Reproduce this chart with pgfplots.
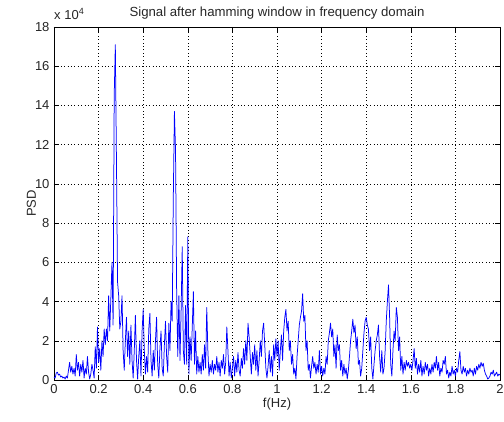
\documentclass[border=0pt]{standalone}
\usepackage{pgfplots}
\usepackage{pgfplotstable}
\pgfplotsset{compat=1.18}
\usepackage{fontspec}
\setmainfont{Liberation Sans}

% PSD of the windowed signal, in units of 10^4, sampled every 0.005 Hz from 0 to 2 Hz
\pgfplotstableread[row sep=\\]{
y\\
0.15\\ 0.1\\ 0.35\\ 0.4\\ 0.25\\ 0.3\\ 0.15\\ 0.2\\ 0.1\\ 0.15\\ 0.05\\ 0.2\\ 0.1\\ 0.5\\ 0.9\\ 0.4\\ 0.7\\ 0.3\\ 0.6\\ 0.2\\
1.3\\ 0.5\\ 0.9\\ 0.2\\ 0.8\\ 0.4\\ 1.0\\ 0.1\\ 0.6\\ 0.3\\ 1.2\\ 0.4\\ 0.05\\ 0.3\\ 0.8\\ 0.5\\ 0.1\\ 1.7\\ 0.6\\ 2.7\\
0.9\\ 1.6\\ 0.5\\ 2.0\\ 1.2\\ 2.6\\ 1.8\\ 2.6\\ 2.0\\ 4.3\\ 2.5\\ 4.2\\ 6.0\\ 2.8\\ 14.5\\ 17.1\\ 11.3\\ 5.0\\ 4.3\\ 2.6\\
3.0\\ 4.3\\ 1.5\\ 0.5\\ 2.0\\ 3.2\\ 1.2\\ 2.5\\ 0.8\\ 2.8\\ 1.0\\ 0.1\\ 1.5\\ 3.3\\ 1.0\\ 0.05\\ 1.2\\ 2.0\\ 0.2\\ 2.5\\
3.6\\ 1.5\\ 0.3\\ 1.2\\ 0.4\\ 2.6\\ 3.4\\ 1.0\\ 0.2\\ 1.5\\ 0.5\\ 2.0\\ 3.2\\ 0.8\\ 0.1\\ 1.6\\ 2.5\\ 0.6\\ 0.2\\ 1.8\\
3.0\\ 1.2\\ 0.4\\ 2.9\\ 1.5\\ 4.0\\ 3.0\\ 9.3\\ 13.7\\ 11.7\\ 4.5\\ 1.2\\ 4.3\\ 1.0\\ 3.5\\ 6.8\\ 1.5\\ 0.8\\ 3.8\\ 0.8\\
7.3\\ 0.3\\ 2.2\\ 1.0\\ 2.7\\ 4.5\\ 0.8\\ 2.5\\ 0.3\\ 1.2\\ 0.4\\ 0.9\\ 0.3\\ 1.3\\ 0.5\\ 1.8\\ 0.6\\ 3.7\\ 1.5\\ 0.2\\
0.8\\ 0.4\\ 1.0\\ 0.3\\ 0.8\\ 0.5\\ 1.2\\ 0.4\\ 0.9\\ 0.2\\ 1.0\\ 0.6\\ 1.3\\ 0.3\\ 0.9\\ 2.7\\ 1.5\\ 0.2\\ 0.9\\ 0.1\\
0.6\\ 1.2\\ 0.2\\ 1.0\\ 0.4\\ 1.4\\ 0.5\\ 0.2\\ 1.1\\ 0.6\\ 1.6\\ 0.8\\ 2.0\\ 1.0\\ 2.9\\ 2.2\\ 1.2\\ 0.3\\ 1.4\\ 0.8\\
1.8\\ 0.5\\ 1.5\\ 0.2\\ 1.0\\ 2.0\\ 1.2\\ 2.5\\ 2.9\\ 1.8\\ 0.6\\ 0.1\\ 0.7\\ 1.5\\ 0.4\\ 1.2\\ 0.2\\ 1.8\\ 1.0\\ 2.1\\
1.2\\ 2.0\\ 0.5\\ 1.5\\ 2.3\\ 1.0\\ 2.5\\ 3.2\\ 3.6\\ 2.5\\ 3.0\\ 1.5\\ 2.0\\ 0.8\\ 1.3\\ 0.3\\ 0.6\\ 0.05\\ 1.2\\ 2.0\\
2.8\\ 3.2\\ 3.5\\ 4.4\\ 3.0\\ 3.3\\ 1.5\\ 2.0\\ 0.5\\ 0.8\\ 0.1\\ 0.7\\ 1.2\\ 0.6\\ 0.9\\ 0.3\\ 0.8\\ 0.4\\ 1.5\\ 0.3\\
0.7\\ 0.2\\ 0.6\\ 0.3\\ 1.2\\ 0.8\\ 2.0\\ 2.4\\ 2.9\\ 2.2\\ 2.6\\ 1.2\\ 1.8\\ 0.6\\ 2.3\\ 1.5\\ 1.8\\ 0.5\\ 1.0\\ 0.2\\
0.8\\ 0.3\\ 0.6\\ 0.05\\ 0.5\\ 1.2\\ 2.0\\ 2.5\\ 3.1\\ 2.4\\ 2.8\\ 1.6\\ 2.2\\ 0.8\\ 1.0\\ 0.2\\ 0.6\\ 1.5\\ 2.4\\ 3.0\\
3.2\\ 2.8\\ 2.6\\ 1.5\\ 2.2\\ 0.6\\ 0.05\\ 0.8\\ 1.5\\ 2.0\\ 2.3\\ 2.8\\ 1.2\\ 0.4\\ 1.5\\ 0.3\\ 0.6\\ 1.5\\ 3.0\\ 4.0\\
4.85\\ 3.2\\ 0.8\\ 0.2\\ 1.5\\ 2.5\\ 2.0\\ 3.7\\ 3.2\\ 1.5\\ 2.2\\ 0.5\\ 1.2\\ 0.3\\ 0.9\\ 0.5\\ 1.0\\ 0.7\\ 0.9\\ 0.6\\
0.8\\ 0.5\\ 1.0\\ 1.6\\ 0.6\\ 1.1\\ 0.3\\ 0.8\\ 0.4\\ 1.0\\ 0.2\\ 0.7\\ 0.3\\ 0.9\\ 0.5\\ 0.8\\ 0.2\\ 0.6\\ 0.3\\ 0.8\\
0.4\\ 0.9\\ 0.6\\ 1.2\\ 0.5\\ 0.9\\ 0.2\\ 0.6\\ 0.4\\ 1.0\\ 0.8\\ 1.2\\ 0.3\\ 0.5\\ 0.1\\ 0.4\\ 0.2\\ 0.7\\ 0.3\\ 0.5\\
0.2\\ 0.6\\ 0.4\\ 1.0\\ 1.45\\ 0.5\\ 0.3\\ 0.7\\ 0.4\\ 0.6\\ 0.2\\ 0.5\\ 0.3\\ 0.6\\ 0.4\\ 0.5\\ 0.2\\ 0.6\\ 0.3\\ 0.7\\
0.5\\ 0.8\\ 0.6\\ 0.9\\ 0.7\\ 0.85\\ 0.5\\ 0.3\\ 0.2\\ 0.05\\ 0.1\\ 0.2\\ 0.4\\ 0.3\\ 0.5\\ 0.2\\ 0.3\\ 0.4\\ 0.2\\ 0.3\\
0.25\\
}\psdtable

\begin{document}
\begin{tikzpicture}
\useasboundingbox (-54pt,-41pt) rectangle (450pt,380pt);
\begin{axis}[
  at={(0,0)}, anchor=south west,
  scale only axis, width=446pt, height=353pt,
  xmin=0, xmax=2, ymin=0, ymax=18,
  xtick={0,0.2,0.4,0.6,0.8,1,1.2,1.4,1.6,1.8,2},
  xticklabels={0,0.2,0.4,0.6,0.8,1,1.2,1.4,1.6,1.8,2},
  ytick={0,2,4,6,8,10,12,14,16,18},
  yticklabels={0,2,4,6,8,10,12,14,16,18},
  tick align=inside, major tick length=5pt,
  tick style={black, line width=0.5pt},
  axis line style={black, line width=0.7pt},
  grid=major,
  major grid style={black, line width=0.5pt, dash pattern=on 0.8pt off 2.6pt},
  tick label style={font=\fontsize{13}{15}\selectfont, text=black!85},
  xticklabel style={yshift=-1pt},
  yticklabel style={xshift=-1pt},
  xlabel={f(Hz)}, ylabel={PSD},
  label style={font=\fontsize{13}{15}\selectfont, text=black!85},
  xlabel style={at={(axis description cs:0.5,0)}, anchor=north, inner sep=0pt, yshift=-18pt},
  ylabel style={at={(axis description cs:-0.04,0.5)}, anchor=south, inner sep=0pt},
  clip mode=individual,
  after end axis/.code={
    \node[anchor=base, inner sep=0pt, font=\fontsize{13.2}{15}\selectfont, text=black!85]
      at ([yshift=10.5pt]rel axis cs:0.5,1) {Signal after hamming window in frequency domain};
    \node[anchor=base west, inner sep=0pt, font=\fontsize{13}{15}\selectfont, text=black!85]
      at ([yshift=7pt]rel axis cs:0,1) {x 10\raisebox{5pt}{\fontsize{9}{10}\selectfont 4}};
  },
]
\addplot[blue, line width=0.75pt, line join=round] table[x expr=\coordindex*0.005, y=y] {\psdtable};
\end{axis}
\end{tikzpicture}
\end{document}
